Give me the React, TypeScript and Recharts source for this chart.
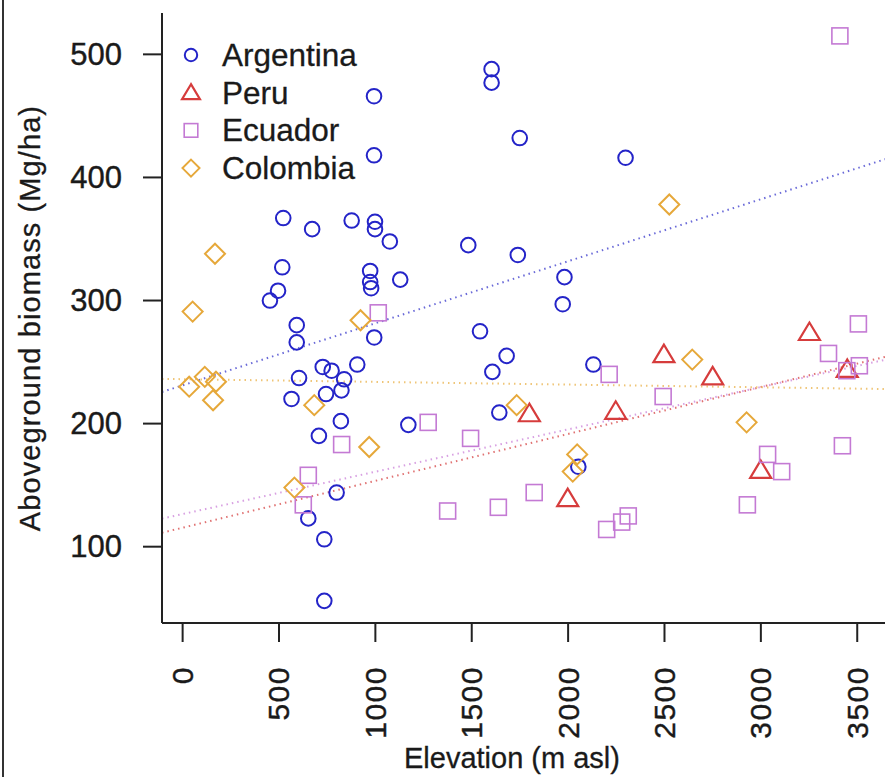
import React from 'react';
import { ScatterChart, Scatter, XAxis, YAxis, ReferenceLine, Legend } from 'recharts';

// elevation (m asl) and aboveground biomass (Mg/ha)
const argentinaElev = [1603, 1603, 993, 993, 1749, 2298, 522, 672, 877, 998, 998, 1075, 1482, 1739, 517, 973, 973, 978, 1129, 495, 453, 1981, 1972, 592, 592, 994, 1543, 1681, 1607, 1643, 727, 773, 906, 604, 838, 824, 744, 565, 821, 707, 1171, 799, 652, 735, 735, 2131, 2053];
const argentinaAgb = [488, 477, 466, 418, 432, 416, 367, 358, 365, 364, 358, 348, 345, 337, 327, 324, 315, 310, 317, 308, 300, 319, 297, 280, 266, 270, 275, 255, 242, 209, 246, 243, 248, 237, 236, 227, 224, 220, 202, 190, 199, 144, 123, 106, 56, 248, 165];

const peruElev = [1799, 2247, 2497, 2750, 1998, 2999, 3252, 3448];
const peruAgb = [208, 210, 256, 238, 139, 162, 274, 244];

const ecuadorElev = [3410, 1015, 825, 1274, 1494, 652, 626, 1375, 1638, 1824, 2213, 2493, 2200, 2278, 2312, 2930, 3035, 3108, 3423, 3351, 3506, 3511, 3446];
const ecuadorAgb = [515, 290, 183, 201, 188, 158, 134, 129, 132, 144, 240, 222, 114, 120, 125, 134, 175, 161, 182, 257, 281, 247, 243];

const colombiaElev = [168, 52, 115, 34, 173, 158, 923, 683, 968, 580, 1733, 2644, 2047, 2024, 2926, 2525];
const colombiaAgb = [338, 291, 238, 230, 234, 219, 284, 215, 181, 148, 215, 252, 175, 161, 201, 378];

// linear trend per country: intercept, slope
const countries = ['Argentina', 'Peru', 'Ecuador', 'Colombia'];
const markers = ['circle', 'triangle', 'square', 'diamond'];
const colors = ['#2424c8', '#d63c3c', '#c47ad4', '#e6a83a'];
const lineColors = ['#6a6ad8', '#e07272', '#d8a0e2', '#efc577'];
const intercepts = [231.1, 115.4, 126.5, 236.1];
const slopes = [0.0504, 0.0381, 0.0344, -0.0022];

const xTicks = [0, 500, 1000, 1500, 2000, 2500, 3000, 3500];
const yTicks = [100, 200, 300, 400, 500];
const xDomain = [-107, 3670];
const yDomain = [38, 533.6];

const FONT = '"Liberation Sans", Arial, sans-serif';
const INK = '#1a1a1a';

const toPoints = (xs: number[], ys: number[]) => xs.map((x, i) => ({ elev: x, agb: ys[i] }));
const series = [
  toPoints(argentinaElev, argentinaAgb),
  toPoints(peruElev, peruAgb),
  toPoints(ecuadorElev, ecuadorAgb),
  toPoints(colombiaElev, colombiaAgb),
];

function Marker({ cx, cy, kind, color, scale = 1 }: { cx: number; cy: number; kind: string; color: string; scale?: number }) {
  if (cx == null || cy == null) return null;
  if (kind === 'circle') {
    return <circle cx={cx} cy={cy} r={7.3 * scale} fill="none" stroke={color} strokeWidth={2} />;
  }
  if (kind === 'triangle') {
    const s = 10 * scale;
    return <polygon points={`${cx},${cy - s} ${cx - s * 1.05},${cy + s * 0.75} ${cx + s * 1.05},${cy + s * 0.75}`} fill="none" stroke={color} strokeWidth={2.2} strokeLinejoin="miter" />;
  }
  if (kind === 'square') {
    const h = 8 * scale;
    return <rect x={cx - h} y={cy - h} width={h * 2} height={h * 2} fill="none" stroke={color} strokeWidth={1.6} />;
  }
  const d = 10 * scale;
  return <polygon points={`${cx},${cy - d} ${cx + d},${cy} ${cx},${cy + d} ${cx - d},${cy}`} fill="none" stroke={color} strokeWidth={2} />;
}

function YTick({ x, y, payload }: any) {
  return (
    <text x={x - 19} y={y} textAnchor="end" dominantBaseline="central" fontFamily={FONT} fontSize={31} fill={INK} stroke={INK} strokeWidth={0.4}>
      {payload.value}
    </text>
  );
}

function XTick({ x, y, payload }: any) {
  const ty = y + 22;
  return (
    <text x={x} y={ty} transform={`rotate(-90, ${x}, ${ty})`} textAnchor="end" dominantBaseline="central" fontFamily={FONT} fontSize={30} letterSpacing={1.5} fill={INK} stroke={INK} strokeWidth={0.4}>
      {payload.value}
    </text>
  );
}

function LegendBox() {
  return (
    <svg width={220} height={160}>
      {countries.map((name, i) => (
        <g key={name}>
          <Marker cx={15} cy={21 + i * 37.7} kind={markers[i]} color={colors[i]} scale={0.85} />
          <text x={46} y={21 + i * 37.7} dominantBaseline="central" fontFamily={FONT} fontSize={31.5} fill={INK} stroke={INK} strokeWidth={0.3}>
            {name}
          </text>
        </g>
      ))}
    </svg>
  );
}

export default function App() {
  return (
    <div style={{ position: 'absolute', left: 0, top: 0, width: 885, height: 777, overflow: 'hidden', background: '#fff' }}>
      <div style={{ position: 'absolute', left: 2, top: 0, width: 2, height: 777, background: '#333' }} />
      <ScatterChart width={900} height={777} margin={{ top: 13, right: 10, bottom: 0, left: 0 }}>
        <XAxis
          type="number"
          dataKey="elev"
          domain={xDomain}
          ticks={xTicks}
          allowDataOverflow
          height={154}
          tickSize={19}
          tick={<XTick />}
          axisLine={{ stroke: '#222', strokeWidth: 2 }}
          tickLine={{ stroke: '#222', strokeWidth: 2 }}
          label={{
            content: ({ viewBox }: any) => (
              <text x={viewBox.x + viewBox.width / 2 - 14} y={768} textAnchor="middle" fontFamily={FONT} fontSize={29} fill={INK} stroke={INK} strokeWidth={0.3}>
                Elevation (m asl)
              </text>
            ),
          }}
        />
        <XAxis xAxisId="top" orientation="top" type="number" dataKey="elev" domain={xDomain} allowDataOverflow height={0} tick={false} tickLine={false} axisLine={{ stroke: '#222', strokeWidth: 2 }} />
        <YAxis
          type="number"
          dataKey="agb"
          domain={yDomain}
          ticks={yTicks}
          allowDataOverflow
          width={162}
          tickSize={19}
          tick={<YTick />}
          axisLine={{ stroke: '#222', strokeWidth: 2 }}
          tickLine={{ stroke: '#222', strokeWidth: 2 }}
          label={{
            content: ({ viewBox }: any) => {
              const cy = viewBox.y + viewBox.height / 2;
              return (
                <text x={30} y={cy} transform={`rotate(-90, 30, ${cy})`} textAnchor="middle" dominantBaseline="central" fontFamily={FONT} fontSize={29} letterSpacing={1.1} fill={INK} stroke={INK} strokeWidth={0.3}>
                  Aboveground biomass (Mg/ha)
                </text>
              );
            },
          }}
        />
        {countries.map((name, i) => (
          <ReferenceLine
            key={'trend-' + name}
            ifOverflow="hidden"
            segment={[
              { x: xDomain[0], y: intercepts[i] + slopes[i] * xDomain[0] },
              { x: xDomain[1], y: intercepts[i] + slopes[i] * xDomain[1] },
            ]}
            stroke={lineColors[i]}
            strokeWidth={2}
            strokeDasharray="1.5 4"
          />
        ))}
        {countries.map((name, i) => (
          <Scatter
            key={name}
            name={name}
            data={series[i]}
            isAnimationActive={false}
            shape={(p: any) => <Marker cx={p.cx} cy={p.cy} kind={markers[i]} color={colors[i]} />}
          />
        ))}
        <Legend
          layout="vertical"
          align="center"
          verticalAlign="middle"
          content={<LegendBox />}
          wrapperStyle={{ position: 'absolute', left: 176, top: 34, width: 220, height: 160 }}
        />
      </ScatterChart>
    </div>
  );
}
